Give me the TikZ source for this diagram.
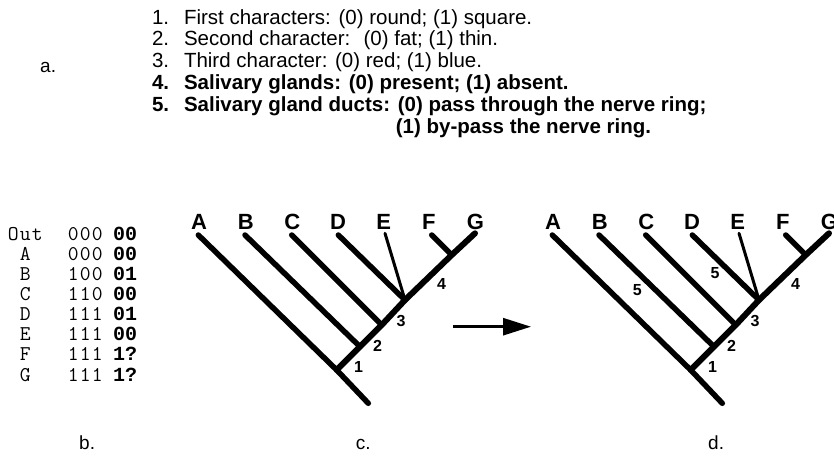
\documentclass[tikz,border=0pt]{standalone}
\usepackage{fontspec}
\setmainfont{Liberation Sans}
\newfontfamily\boldmono{Liberation Mono}
\usetikzlibrary{arrows.meta}
\newcommand\mcol[1]{\makebox[12pt]{#1}}
\tikzset{
  txt/.style={inner sep=0pt, outer sep=0pt, anchor=base west, font=\fontsize{20.5}{24}\selectfont},
  btxt/.style={txt, font=\fontsize{20.5}{24}\selectfont\bfseries},
  panel/.style={inner sep=0pt, anchor=base west, font=\fontsize{19}{21}\selectfont},
  mono/.style={inner sep=0pt, anchor=base west, font=\fontsize{21}{20}\selectfont\ttfamily},
  monob/.style={inner sep=0pt, anchor=base west, font=\fontsize{20}{20}\selectfont\boldmono\bfseries},
  taxon/.style={inner sep=0pt, anchor=base, font=\fontsize{22}{24}\selectfont\bfseries},
  num/.style={inner sep=0pt, font=\fontsize{16}{18}\selectfont\bfseries},
  branch/.style={line width=5.5pt, line cap=round},
  spine/.style={line width=6pt, line cap=round, line join=round},
  thinbranch/.style={line width=3pt, line cap=round},
  bigarrow/.style={line width=2.7pt, -{Triangle[length=28pt,width=17pt]}},
}
\newcommand\mycladogram[2]{%
\begin{scope}[xshift=#1]
  \coordinate (#2tA) at (198.3,235);
  \coordinate (#2tB) at (245,235);
  \coordinate (#2tC) at (291.7,235);
  \coordinate (#2tD) at (338.3,235);
  \coordinate (#2tE) at (385,233.3);
  \coordinate (#2tF) at (431.7,235);
  \coordinate (#2tG) at (475,233.3);
  \coordinate (#2n1) at (336.7,370);
  \coordinate (#2n2) at (360,346.7);
  \coordinate (#2n3) at (381.7,325);
  \coordinate (#2nDE) at (405,300);
  \coordinate (#2nFG) at (451.7,255);
  \coordinate (#2root) at (368.3,403.3);
  \node[taxon] (#2A) at (199,229) {A};
  \node[taxon] (#2B) at (245.7,229) {B};
  \node[taxon] (#2C) at (292.2,229) {C};
  \node[taxon] (#2D) at (338,229) {D};
  \node[taxon] (#2E) at (383.8,229) {E};
  \node[taxon] (#2F) at (428.8,229) {F};
  \node[taxon] (#2G) at (475.5,229) {G};
  \draw[branch] (#2tA) -- (#2n1) -- (#2root);
  \draw[spine] (#2n1) -- (#2n2) -- (#2n3) -- (#2nDE) -- (#2nFG) -- (#2tG);
  \draw[branch] (#2tB) -- (#2n2);
  \draw[branch] (#2tC) -- (#2n3);
  \draw[branch] (#2tD) -- (#2nDE);
  \draw[thinbranch] (#2tE) -- (#2nDE);
  \draw[branch] (#2tF) -- (#2nFG);
  \node[num] (#2k1) at (358.5,366.5) {1};
  \node[num] (#2k2) at (377.5,345.5) {2};
  \node[num] (#2k3) at (401,320.7) {3};
  \node[num] (#2k4) at (441.5,284) {4};
\end{scope}}
% table row: name, y, label (3 columns), value digits
\newcommand\trow[8]{%
  \node[mono] (row#1) at (7,#2) {\mcol{#3}\mcol{#4}\mcol{#5}};
  \node[mono] (va#1) at (67,#2) {\mcol{#6}\mcol{#7}\mcol{#8}};
}
\begin{document}
\begin{tikzpicture}[x=1pt,y=-1pt]
\useasboundingbox (0,0) rectangle (834,458);
% part a
\node[panel] (la) at (40,72.5) {a.};
\node[txt] (i1) at (152,24) {1.};
\node[txt] (t1) at (184,24) {First characters: (0) round; (1) square.};
\node[txt] (i2) at (152,45.8) {2.};
\node[txt] (t2) at (184,45.8) {Second character: \ (0) fat; (1) thin.};
\node[txt] (i3) at (152,67.6) {3.};
\node[txt] (t3) at (184,67.6) {Third character: (0) red; (1) blue.};
\node[btxt] (i4) at (152,89.4) {4.};
\node[btxt] (t4) at (184,89.4) {Salivary glands: (0) present; (1) absent.};
\node[btxt] (i5) at (152,111.2) {5.};
\node[btxt] (t5) at (184,111.2) {Salivary gland ducts: (0) pass through the nerve ring;};
\node[btxt] (t6) at (184,133) {\phantom{Salivary gland ducts:\ }(1) by-pass the nerve ring.};
% part b
\trow{Out}{240}{O}{u}{t}{0}{0}{0}
\trow{A}{260.1}{}{A}{}{0}{0}{0}
\trow{B}{280.3}{}{B}{}{1}{0}{0}
\trow{C}{300.4}{}{C}{}{1}{1}{0}
\trow{D}{320.6}{}{D}{}{1}{1}{1}
\trow{E}{340.7}{}{E}{}{1}{1}{1}
\trow{F}{360.8}{}{F}{}{1}{1}{1}
\trow{G}{381}{}{G}{}{1}{1}{1}
\node[monob] (vbOut) at (113,240) {00};
\node[monob] (vbA) at (113,260.1) {00};
\node[monob] (vbB) at (113,280.3) {01};
\node[monob] (vbC) at (113,300.4) {00};
\node[monob] (vbD) at (113,320.6) {01};
\node[monob] (vbE) at (113,340.7) {00};
\node[monob] (vbF) at (113,360.8) {1?};
\node[monob] (vbG) at (113,381) {1?};
\node[panel] (lb) at (79,449) {b.};
% part c and d
\mycladogram{0pt}{c}
\node[panel] (lc) at (355.7,449) {c.};
\coordinate (arrS) at (453,326.7);
\coordinate (arrE) at (531,326.7);
\draw[bigarrow] (arrS) -- (arrE);
\mycladogram{354pt}{d}
\node[num] (d5a) at (637.3,290) {5};
\node[num] (d5b) at (715,273.3) {5};
\node[panel] (ld) at (708,449) {d.};
\end{tikzpicture}
\end{document}
